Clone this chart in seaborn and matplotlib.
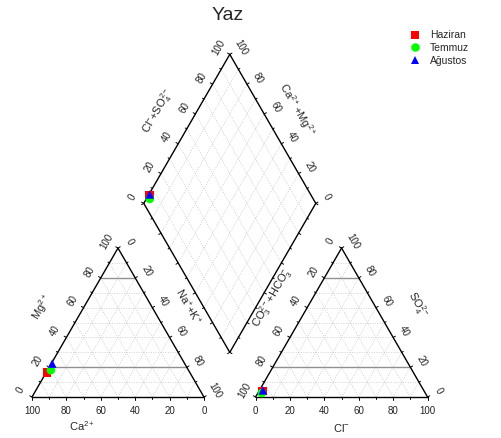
import numpy as np
import pandas as pd
import matplotlib
matplotlib.use("Agg")
import matplotlib.pyplot as plt
import seaborn as sns

# Ay bazında iyon yüzdeleri (%meq)
months = ["Haziran", "Temmuz", "Ağustos"]
ca = [83.0, 80.0, 77.0]
mg = [16.5, 18.0, 22.5]
na_k = [0.5, 2.0, 0.5]
hco3 = [94.0, 95.0, 93.5]
so4 = [4.0, 2.7, 4.5]
cl = [2.0, 2.3, 2.0]

colors = ["#ff0000", "#00ff00", "#0000ff"]
markers = ["s", "o", "^"]
ticks = [0, 20, 40, 60, 80, 100]

sns.set_style("white")
plt.rcParams["font.family"] = ["Liberation Sans", "DejaVu Sans"]
plt.rcParams["mathtext.fontset"] = "custom"
plt.rcParams["mathtext.rm"] = "Liberation Sans"
plt.rcParams["mathtext.it"] = "Liberation Sans"

h = np.sqrt(3) / 2
gap = 0.3
off = 1 + gap


def tri_xy(a_right, a_top, x0):
    a_right = np.asarray(a_right) / 100
    a_top = np.asarray(a_top) / 100
    return x0 + a_right + a_top / 2, a_top * h


def diamond_xy(p1x, p1y, p2x, p2y):
    t = (p2x - p1x) + (p2y - p1y) / (2 * h)
    return p1x + 0.5 * t, p1y + h * t


c_x, c_y = tri_xy(na_k, mg, 0)
a_x, a_y = tri_xy(cl, so4, off)
d_x, d_y = diamond_xy(c_x, c_y, a_x, a_y)

df = pd.DataFrame({
    "x": np.column_stack([c_x, d_x, a_x]).ravel(),
    "y": np.column_stack([c_y, d_y, a_y]).ravel(),
    "Ay": np.repeat(months, 3),
})

fig = plt.figure(figsize=(5.01, 4.38), dpi=100)
ax = fig.add_axes([0, 0, 1, 1])
ax.set_xlim(-0.186, 2.727)
ax.set_ylim(-0.238, 2.308)
ax.axis("off")

grid_kw = dict(color="#c4c4c4", lw=0.5, ls=(0, (1.5, 2)), zorder=1)
edge_kw = dict(color="black", lw=1.0, zorder=3)
tick_fs = 7
lab_fs = 8


def seg(p, q, **kw):
    ax.plot([p[0], q[0]], [p[1], q[1]], **kw)


def lerp(p, q, f):
    return (p[0] + f * (q[0] - p[0]), p[1] + f * (q[1] - p[1]))


def edge_ticks(p, q, normal, labels=None, rot=0, dist=0.075):
    n = np.array(normal)
    for k in range(11):
        f = k / 10
        pt = np.array(lerp(p, q, f))
        ln = 0.015 if k % 2 == 0 else 0.01
        seg(pt, pt + n * ln, color="black", lw=0.7, zorder=3)
    if labels is not None:
        for f, lab in zip(np.linspace(0, 1, 6), labels):
            pt = np.array(lerp(p, q, f)) + n * dist
            ax.text(pt[0], pt[1], lab, fontsize=tick_fs, rotation=rot,
                    ha="center", va="center", color="#222222")


def triangle(x0):
    A, B, C = (x0, 0), (x0 + 1, 0), (x0 + 0.5, h)
    for k in range(1, 10):
        f = k / 10
        seg(lerp(A, C, f), lerp(B, C, f), **grid_kw)
        seg(lerp(A, B, f), lerp(C, B, f), **grid_kw)
        seg(lerp(B, A, f), lerp(C, A, f), **grid_kw)
    for f in (0.2, 0.8):
        seg(lerp(A, C, f), lerp(B, C, f), color="#909090", lw=1.0, zorder=2)
    seg(A, B, **edge_kw)
    seg(B, C, **edge_kw)
    seg(C, A, **edge_kw)
    return A, B, C


nl = (-h, 0.5)
nr = (h, 0.5)
nb = (0, -1)

# sol üçgen (katyonlar)
A, B, C = triangle(0)
edge_ticks(A, B, nb, [str(v) for v in ticks[::-1]], 0, dist=0.08)
edge_ticks(A, C, nl, [str(v) for v in ticks], 60)
edge_ticks(C, B, nr, [str(v) for v in ticks], -60)

# sağ üçgen (anyonlar)
A2, B2, C2 = triangle(off)
edge_ticks(A2, B2, nb, [str(v) for v in ticks], 0, dist=0.08)
edge_ticks(B2, C2, nr, [str(v) for v in ticks], -60)
edge_ticks(C2, A2, nl, [str(v) for v in ticks], 60)

# elmas
Db = (1 + gap / 2, gap * h)
Dl = (0.5 + gap / 2, (1 + gap) * h)
Dt = (1 + gap / 2, (2 + gap) * h)
Dr = (1.5 + gap / 2, (1 + gap) * h)
for k in range(1, 10):
    f = k / 10
    seg(lerp(Dl, Dt, f), lerp(Db, Dr, f), **grid_kw)
    seg(lerp(Db, Dl, f), lerp(Dr, Dt, f), **grid_kw)
for p, q in [(Db, Dl), (Dl, Dt), (Dt, Dr), (Dr, Db)]:
    seg(p, q, **edge_kw)
edge_ticks(Dl, Dt, nl, [str(v) for v in ticks], 60)
edge_ticks(Dr, Dt, nr, [str(v) for v in ticks], -60)
edge_ticks(Db, Dl, (-h, -0.5))
edge_ticks(Db, Dr, (h, -0.5))

# eksen başlıkları
ax.text(0.29, -0.17, r"Ca$^{2+}$", fontsize=lab_fs, ha="center", va="center")
ax.text(1.80, -0.18, r"Cl$^{-}$", fontsize=lab_fs, ha="center", va="center")
ax.text(0.058, 0.523, r"Mg$^{2+}$", fontsize=lab_fs, rotation=60,
        ha="center", va="center")
ax.text(0.907, 0.523, r"Na$^{+}$+K$^{+}$", fontsize=lab_fs, rotation=-60,
        ha="center", va="center")
ax.text(1.395, 0.576, r"CO$_3^{2-}$+HCO$_3^{-}$", fontsize=lab_fs, rotation=60,
        ha="center", va="center")
ax.text(2.238, 0.535, r"SO$_4^{2-}$", fontsize=lab_fs, rotation=-60,
        ha="center", va="center")
ax.text(0.735, 1.66, r"Cl$^{-}$+SO$_4^{2-}$", fontsize=lab_fs, rotation=60,
        ha="center", va="center")
ax.text(1.541, 1.669, r"Ca$^{2+}$+Mg$^{2+}$", fontsize=lab_fs, rotation=-60,
        ha="center", va="center")
ax.text(1.14, 2.215, "Yaz", fontsize=14, ha="center", va="center")

sns.scatterplot(
    data=df, x="x", y="y", hue="Ay", style="Ay",
    hue_order=months, style_order=months,
    palette=colors, markers=markers, s=38, linewidth=0,
    ax=ax, zorder=5,
)
ax.axis("off")
ax.legend(
    loc="upper left", bbox_to_anchor=(0.80, 0.94),
    frameon=False, fontsize=7.5, handletextpad=0.4,
    labelspacing=0.25, markerscale=1.0, borderaxespad=0,
)

fig.savefig("out.png", dpi=100)
